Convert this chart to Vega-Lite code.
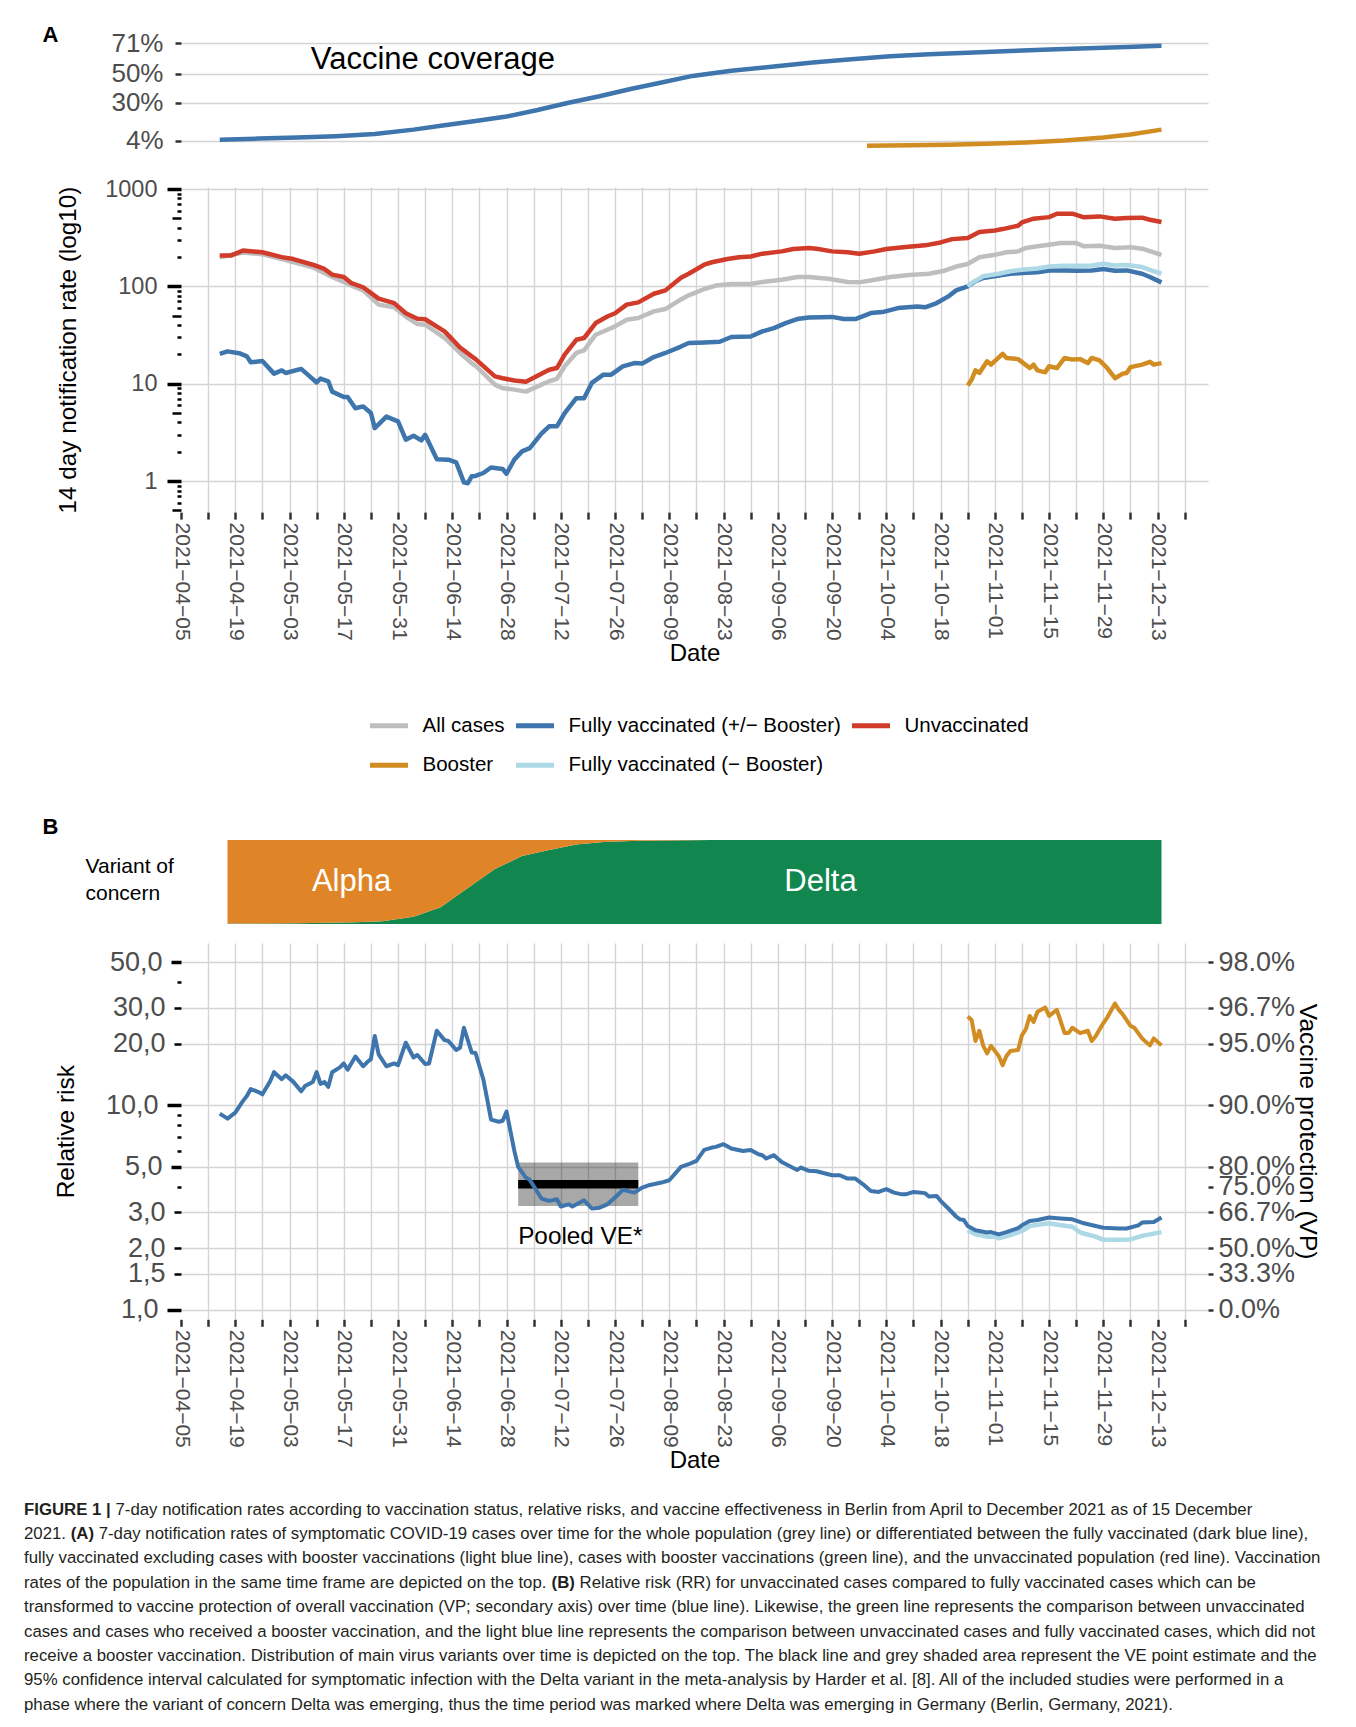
{
  "$schema": "https://vega.github.io/schema/vega-lite/v6.json",
  "background": "white",
  "padding": {"left": 24, "top": 23, "right": 5, "bottom": 5},
  "spacing": 19,
  "config": {
    "font": "Liberation Sans",
    "view": {"stroke": null},
    "axis": {"domain": false, "gridColor": "#d4d4d4", "gridWidth": 1.4, "titleFontWeight": "normal", "titleColor": "#000000", "labelColor": "#4d4d4d"}
  },
  "resolve": {"scale": {"x": "independent", "y": "independent", "color": "independent"}},
  "datasets": {
    "coverage": [
      {"date": "2021-04-15", "group": "Fully vaccinated", "pct": 4.6},
      {"date": "2021-04-25", "group": "Fully vaccinated", "pct": 5.3},
      {"date": "2021-05-05", "group": "Fully vaccinated", "pct": 6.0},
      {"date": "2021-05-15", "group": "Fully vaccinated", "pct": 7.0},
      {"date": "2021-05-25", "group": "Fully vaccinated", "pct": 8.5},
      {"date": "2021-06-04", "group": "Fully vaccinated", "pct": 11.5},
      {"date": "2021-06-12", "group": "Fully vaccinated", "pct": 14.5},
      {"date": "2021-06-20", "group": "Fully vaccinated", "pct": 17.5},
      {"date": "2021-06-28", "group": "Fully vaccinated", "pct": 20.5},
      {"date": "2021-07-06", "group": "Fully vaccinated", "pct": 25},
      {"date": "2021-07-14", "group": "Fully vaccinated", "pct": 30},
      {"date": "2021-07-22", "group": "Fully vaccinated", "pct": 34.5},
      {"date": "2021-07-30", "group": "Fully vaccinated", "pct": 39.5},
      {"date": "2021-08-07", "group": "Fully vaccinated", "pct": 44},
      {"date": "2021-08-15", "group": "Fully vaccinated", "pct": 48.5},
      {"date": "2021-08-25", "group": "Fully vaccinated", "pct": 52},
      {"date": "2021-09-05", "group": "Fully vaccinated", "pct": 55},
      {"date": "2021-09-15", "group": "Fully vaccinated", "pct": 57.8},
      {"date": "2021-09-25", "group": "Fully vaccinated", "pct": 60},
      {"date": "2021-10-05", "group": "Fully vaccinated", "pct": 62},
      {"date": "2021-10-15", "group": "Fully vaccinated", "pct": 63.5},
      {"date": "2021-10-25", "group": "Fully vaccinated", "pct": 64.5},
      {"date": "2021-11-05", "group": "Fully vaccinated", "pct": 65.7},
      {"date": "2021-11-15", "group": "Fully vaccinated", "pct": 66.7},
      {"date": "2021-11-25", "group": "Fully vaccinated", "pct": 67.5},
      {"date": "2021-12-05", "group": "Fully vaccinated", "pct": 68.4},
      {"date": "2021-12-14", "group": "Fully vaccinated", "pct": 69.2},
      {"date": "2021-09-29", "group": "Booster", "pct": 0.4},
      {"date": "2021-10-10", "group": "Booster", "pct": 0.7},
      {"date": "2021-10-20", "group": "Booster", "pct": 1.1},
      {"date": "2021-10-30", "group": "Booster", "pct": 1.7},
      {"date": "2021-11-09", "group": "Booster", "pct": 2.6},
      {"date": "2021-11-19", "group": "Booster", "pct": 4.0},
      {"date": "2021-11-29", "group": "Booster", "pct": 6.0},
      {"date": "2021-12-06", "group": "Booster", "pct": 8.2},
      {"date": "2021-12-14", "group": "Booster", "pct": 11.5}
    ],
    "rates": [
      {"date": "2021-04-15", "series": "All cases", "value": 199},
      {"date": "2021-04-21", "series": "All cases", "value": 223},
      {"date": "2021-04-26", "series": "All cases", "value": 214},
      {"date": "2021-05-01", "series": "All cases", "value": 191},
      {"date": "2021-05-09", "series": "All cases", "value": 157},
      {"date": "2021-05-14", "series": "All cases", "value": 125},
      {"date": "2021-05-19", "series": "All cases", "value": 102},
      {"date": "2021-05-22", "series": "All cases", "value": 91},
      {"date": "2021-05-26", "series": "All cases", "value": 65},
      {"date": "2021-05-30", "series": "All cases", "value": 61},
      {"date": "2021-06-02", "series": "All cases", "value": 49},
      {"date": "2021-06-05", "series": "All cases", "value": 41},
      {"date": "2021-06-07", "series": "All cases", "value": 40.4},
      {"date": "2021-06-12", "series": "All cases", "value": 29.5},
      {"date": "2021-06-13", "series": "All cases", "value": 27.2},
      {"date": "2021-06-16", "series": "All cases", "value": 20.7},
      {"date": "2021-06-19", "series": "All cases", "value": 16.3},
      {"date": "2021-06-20", "series": "All cases", "value": 15.3},
      {"date": "2021-06-25", "series": "All cases", "value": 9.8},
      {"date": "2021-06-27", "series": "All cases", "value": 9.0},
      {"date": "2021-06-30", "series": "All cases", "value": 8.7},
      {"date": "2021-07-03", "series": "All cases", "value": 8.3},
      {"date": "2021-07-06", "series": "All cases", "value": 9.4},
      {"date": "2021-07-09", "series": "All cases", "value": 10.6},
      {"date": "2021-07-11", "series": "All cases", "value": 11.2},
      {"date": "2021-07-13", "series": "All cases", "value": 15.1},
      {"date": "2021-07-16", "series": "All cases", "value": 20.7},
      {"date": "2021-07-18", "series": "All cases", "value": 22},
      {"date": "2021-07-21", "series": "All cases", "value": 31.9},
      {"date": "2021-07-24", "series": "All cases", "value": 35.9},
      {"date": "2021-07-26", "series": "All cases", "value": 38.8},
      {"date": "2021-07-29", "series": "All cases", "value": 45.5},
      {"date": "2021-08-01", "series": "All cases", "value": 47.3},
      {"date": "2021-08-05", "series": "All cases", "value": 55.4},
      {"date": "2021-08-08", "series": "All cases", "value": 58.5},
      {"date": "2021-08-12", "series": "All cases", "value": 73.5},
      {"date": "2021-08-14", "series": "All cases", "value": 81},
      {"date": "2021-08-18", "series": "All cases", "value": 94},
      {"date": "2021-08-21", "series": "All cases", "value": 102},
      {"date": "2021-08-25", "series": "All cases", "value": 106},
      {"date": "2021-08-30", "series": "All cases", "value": 106},
      {"date": "2021-09-02", "series": "All cases", "value": 111},
      {"date": "2021-09-07", "series": "All cases", "value": 117},
      {"date": "2021-09-11", "series": "All cases", "value": 125},
      {"date": "2021-09-14", "series": "All cases", "value": 125},
      {"date": "2021-09-19", "series": "All cases", "value": 120},
      {"date": "2021-09-24", "series": "All cases", "value": 111},
      {"date": "2021-09-27", "series": "All cases", "value": 110},
      {"date": "2021-10-01", "series": "All cases", "value": 117},
      {"date": "2021-10-05", "series": "All cases", "value": 125},
      {"date": "2021-10-10", "series": "All cases", "value": 131},
      {"date": "2021-10-15", "series": "All cases", "value": 135},
      {"date": "2021-10-19", "series": "All cases", "value": 145},
      {"date": "2021-10-22", "series": "All cases", "value": 160},
      {"date": "2021-10-25", "series": "All cases", "value": 170},
      {"date": "2021-10-28", "series": "All cases", "value": 199},
      {"date": "2021-11-01", "series": "All cases", "value": 211},
      {"date": "2021-11-04", "series": "All cases", "value": 224},
      {"date": "2021-11-07", "series": "All cases", "value": 229},
      {"date": "2021-11-09", "series": "All cases", "value": 248},
      {"date": "2021-11-12", "series": "All cases", "value": 258},
      {"date": "2021-11-15", "series": "All cases", "value": 268},
      {"date": "2021-11-18", "series": "All cases", "value": 279},
      {"date": "2021-11-22", "series": "All cases", "value": 279},
      {"date": "2021-11-24", "series": "All cases", "value": 258},
      {"date": "2021-11-28", "series": "All cases", "value": 262},
      {"date": "2021-12-02", "series": "All cases", "value": 248},
      {"date": "2021-12-06", "series": "All cases", "value": 252},
      {"date": "2021-12-09", "series": "All cases", "value": 244},
      {"date": "2021-12-14", "series": "All cases", "value": 211},

      {"date": "2021-04-15", "series": "Fully vaccinated (+/− Booster)", "value": 20.3},
      {"date": "2021-04-17", "series": "Fully vaccinated (+/− Booster)", "value": 21.5},
      {"date": "2021-04-20", "series": "Fully vaccinated (+/− Booster)", "value": 20.6},
      {"date": "2021-04-22", "series": "Fully vaccinated (+/− Booster)", "value": 19.1},
      {"date": "2021-04-23", "series": "Fully vaccinated (+/− Booster)", "value": 16.6},
      {"date": "2021-04-26", "series": "Fully vaccinated (+/− Booster)", "value": 17.1},
      {"date": "2021-04-29", "series": "Fully vaccinated (+/− Booster)", "value": 12.7},
      {"date": "2021-05-01", "series": "Fully vaccinated (+/− Booster)", "value": 13.7},
      {"date": "2021-05-02", "series": "Fully vaccinated (+/− Booster)", "value": 12.9},
      {"date": "2021-05-06", "series": "Fully vaccinated (+/− Booster)", "value": 14.2},
      {"date": "2021-05-08", "series": "Fully vaccinated (+/− Booster)", "value": 12.1},
      {"date": "2021-05-10", "series": "Fully vaccinated (+/− Booster)", "value": 10.3},
      {"date": "2021-05-11", "series": "Fully vaccinated (+/− Booster)", "value": 11.3},
      {"date": "2021-05-13", "series": "Fully vaccinated (+/− Booster)", "value": 10.6},
      {"date": "2021-05-14", "series": "Fully vaccinated (+/− Booster)", "value": 8.3},
      {"date": "2021-05-17", "series": "Fully vaccinated (+/− Booster)", "value": 7.3},
      {"date": "2021-05-18", "series": "Fully vaccinated (+/− Booster)", "value": 7.3},
      {"date": "2021-05-20", "series": "Fully vaccinated (+/− Booster)", "value": 5.6},
      {"date": "2021-05-22", "series": "Fully vaccinated (+/− Booster)", "value": 5.85},
      {"date": "2021-05-24", "series": "Fully vaccinated (+/− Booster)", "value": 5.0},
      {"date": "2021-05-25", "series": "Fully vaccinated (+/− Booster)", "value": 3.5},
      {"date": "2021-05-28", "series": "Fully vaccinated (+/− Booster)", "value": 4.6},
      {"date": "2021-05-31", "series": "Fully vaccinated (+/− Booster)", "value": 4.1},
      {"date": "2021-06-02", "series": "Fully vaccinated (+/− Booster)", "value": 2.66},
      {"date": "2021-06-04", "series": "Fully vaccinated (+/− Booster)", "value": 2.92},
      {"date": "2021-06-06", "series": "Fully vaccinated (+/− Booster)", "value": 2.62},
      {"date": "2021-06-07", "series": "Fully vaccinated (+/− Booster)", "value": 2.99},
      {"date": "2021-06-10", "series": "Fully vaccinated (+/− Booster)", "value": 1.68},
      {"date": "2021-06-13", "series": "Fully vaccinated (+/− Booster)", "value": 1.66},
      {"date": "2021-06-15", "series": "Fully vaccinated (+/− Booster)", "value": 1.56},
      {"date": "2021-06-17", "series": "Fully vaccinated (+/− Booster)", "value": 0.97},
      {"date": "2021-06-18", "series": "Fully vaccinated (+/− Booster)", "value": 0.95},
      {"date": "2021-06-19", "series": "Fully vaccinated (+/− Booster)", "value": 1.12},
      {"date": "2021-06-20", "series": "Fully vaccinated (+/− Booster)", "value": 1.13},
      {"date": "2021-06-22", "series": "Fully vaccinated (+/− Booster)", "value": 1.21},
      {"date": "2021-06-24", "series": "Fully vaccinated (+/− Booster)", "value": 1.38},
      {"date": "2021-06-27", "series": "Fully vaccinated (+/− Booster)", "value": 1.33},
      {"date": "2021-06-28", "series": "Fully vaccinated (+/− Booster)", "value": 1.19},
      {"date": "2021-06-30", "series": "Fully vaccinated (+/− Booster)", "value": 1.66},
      {"date": "2021-07-02", "series": "Fully vaccinated (+/− Booster)", "value": 2.02},
      {"date": "2021-07-04", "series": "Fully vaccinated (+/− Booster)", "value": 2.18},
      {"date": "2021-07-07", "series": "Fully vaccinated (+/− Booster)", "value": 3.07},
      {"date": "2021-07-09", "series": "Fully vaccinated (+/− Booster)", "value": 3.65},
      {"date": "2021-07-11", "series": "Fully vaccinated (+/− Booster)", "value": 3.65},
      {"date": "2021-07-13", "series": "Fully vaccinated (+/− Booster)", "value": 5.0},
      {"date": "2021-07-16", "series": "Fully vaccinated (+/− Booster)", "value": 7.1},
      {"date": "2021-07-18", "series": "Fully vaccinated (+/− Booster)", "value": 7.1},
      {"date": "2021-07-20", "series": "Fully vaccinated (+/− Booster)", "value": 10.2},
      {"date": "2021-07-23", "series": "Fully vaccinated (+/− Booster)", "value": 12.4},
      {"date": "2021-07-25", "series": "Fully vaccinated (+/− Booster)", "value": 12.4},
      {"date": "2021-07-28", "series": "Fully vaccinated (+/− Booster)", "value": 15.1},
      {"date": "2021-07-31", "series": "Fully vaccinated (+/− Booster)", "value": 16.3},
      {"date": "2021-08-02", "series": "Fully vaccinated (+/− Booster)", "value": 16.1},
      {"date": "2021-08-05", "series": "Fully vaccinated (+/− Booster)", "value": 18.8},
      {"date": "2021-08-08", "series": "Fully vaccinated (+/− Booster)", "value": 20.7},
      {"date": "2021-08-12", "series": "Fully vaccinated (+/− Booster)", "value": 24.1},
      {"date": "2021-08-14", "series": "Fully vaccinated (+/− Booster)", "value": 26.2},
      {"date": "2021-08-18", "series": "Fully vaccinated (+/− Booster)", "value": 26.6},
      {"date": "2021-08-22", "series": "Fully vaccinated (+/− Booster)", "value": 27},
      {"date": "2021-08-25", "series": "Fully vaccinated (+/− Booster)", "value": 30.2},
      {"date": "2021-08-30", "series": "Fully vaccinated (+/− Booster)", "value": 30.6},
      {"date": "2021-09-02", "series": "Fully vaccinated (+/− Booster)", "value": 34.5},
      {"date": "2021-09-05", "series": "Fully vaccinated (+/− Booster)", "value": 37.3},
      {"date": "2021-09-08", "series": "Fully vaccinated (+/− Booster)", "value": 42},
      {"date": "2021-09-11", "series": "Fully vaccinated (+/− Booster)", "value": 46.2},
      {"date": "2021-09-14", "series": "Fully vaccinated (+/− Booster)", "value": 48},
      {"date": "2021-09-20", "series": "Fully vaccinated (+/− Booster)", "value": 48.6},
      {"date": "2021-09-23", "series": "Fully vaccinated (+/− Booster)", "value": 46.2},
      {"date": "2021-09-26", "series": "Fully vaccinated (+/− Booster)", "value": 46.2},
      {"date": "2021-09-30", "series": "Fully vaccinated (+/− Booster)", "value": 53.2},
      {"date": "2021-10-03", "series": "Fully vaccinated (+/− Booster)", "value": 54.5},
      {"date": "2021-10-07", "series": "Fully vaccinated (+/− Booster)", "value": 59.9},
      {"date": "2021-10-12", "series": "Fully vaccinated (+/− Booster)", "value": 62.3},
      {"date": "2021-10-14", "series": "Fully vaccinated (+/− Booster)", "value": 61},
      {"date": "2021-10-17", "series": "Fully vaccinated (+/− Booster)", "value": 67.4},
      {"date": "2021-10-20", "series": "Fully vaccinated (+/− Booster)", "value": 78.9},
      {"date": "2021-10-22", "series": "Fully vaccinated (+/− Booster)", "value": 91},
      {"date": "2021-10-25", "series": "Fully vaccinated (+/− Booster)", "value": 100},
      {"date": "2021-10-27", "series": "Fully vaccinated (+/− Booster)", "value": 113},
      {"date": "2021-10-29", "series": "Fully vaccinated (+/− Booster)", "value": 122},
      {"date": "2021-11-02", "series": "Fully vaccinated (+/− Booster)", "value": 129},
      {"date": "2021-11-05", "series": "Fully vaccinated (+/− Booster)", "value": 135},
      {"date": "2021-11-08", "series": "Fully vaccinated (+/− Booster)", "value": 137},
      {"date": "2021-11-12", "series": "Fully vaccinated (+/− Booster)", "value": 140},
      {"date": "2021-11-15", "series": "Fully vaccinated (+/− Booster)", "value": 146},
      {"date": "2021-11-19", "series": "Fully vaccinated (+/− Booster)", "value": 146},
      {"date": "2021-11-22", "series": "Fully vaccinated (+/− Booster)", "value": 145},
      {"date": "2021-11-26", "series": "Fully vaccinated (+/− Booster)", "value": 146},
      {"date": "2021-11-29", "series": "Fully vaccinated (+/− Booster)", "value": 151},
      {"date": "2021-12-02", "series": "Fully vaccinated (+/− Booster)", "value": 145},
      {"date": "2021-12-05", "series": "Fully vaccinated (+/− Booster)", "value": 146},
      {"date": "2021-12-09", "series": "Fully vaccinated (+/− Booster)", "value": 135},
      {"date": "2021-12-11", "series": "Fully vaccinated (+/− Booster)", "value": 125},
      {"date": "2021-12-14", "series": "Fully vaccinated (+/− Booster)", "value": 110},

      {"date": "2021-10-25", "series": "Fully vaccinated (− Booster)", "value": 100},
      {"date": "2021-10-26", "series": "Fully vaccinated (− Booster)", "value": 108},
      {"date": "2021-10-29", "series": "Fully vaccinated (− Booster)", "value": 127},
      {"date": "2021-11-02", "series": "Fully vaccinated (− Booster)", "value": 135},
      {"date": "2021-11-05", "series": "Fully vaccinated (− Booster)", "value": 143},
      {"date": "2021-11-08", "series": "Fully vaccinated (− Booster)", "value": 148},
      {"date": "2021-11-12", "series": "Fully vaccinated (− Booster)", "value": 153},
      {"date": "2021-11-15", "series": "Fully vaccinated (− Booster)", "value": 160},
      {"date": "2021-11-19", "series": "Fully vaccinated (− Booster)", "value": 163},
      {"date": "2021-11-22", "series": "Fully vaccinated (− Booster)", "value": 163},
      {"date": "2021-11-26", "series": "Fully vaccinated (− Booster)", "value": 164},
      {"date": "2021-11-29", "series": "Fully vaccinated (− Booster)", "value": 171},
      {"date": "2021-12-02", "series": "Fully vaccinated (− Booster)", "value": 164},
      {"date": "2021-12-05", "series": "Fully vaccinated (− Booster)", "value": 166},
      {"date": "2021-12-09", "series": "Fully vaccinated (− Booster)", "value": 158},
      {"date": "2021-12-11", "series": "Fully vaccinated (− Booster)", "value": 148},
      {"date": "2021-12-14", "series": "Fully vaccinated (− Booster)", "value": 135},

      {"date": "2021-04-15", "series": "Unvaccinated", "value": 208},
      {"date": "2021-04-18", "series": "Unvaccinated", "value": 208},
      {"date": "2021-04-21", "series": "Unvaccinated", "value": 234},
      {"date": "2021-04-26", "series": "Unvaccinated", "value": 224},
      {"date": "2021-05-01", "series": "Unvaccinated", "value": 200},
      {"date": "2021-05-04", "series": "Unvaccinated", "value": 191},
      {"date": "2021-05-09", "series": "Unvaccinated", "value": 167},
      {"date": "2021-05-12", "series": "Unvaccinated", "value": 151},
      {"date": "2021-05-14", "series": "Unvaccinated", "value": 132},
      {"date": "2021-05-17", "series": "Unvaccinated", "value": 125},
      {"date": "2021-05-19", "series": "Unvaccinated", "value": 108},
      {"date": "2021-05-22", "series": "Unvaccinated", "value": 98},
      {"date": "2021-05-26", "series": "Unvaccinated", "value": 75},
      {"date": "2021-05-30", "series": "Unvaccinated", "value": 67.3},
      {"date": "2021-06-02", "series": "Unvaccinated", "value": 53},
      {"date": "2021-06-05", "series": "Unvaccinated", "value": 46.5},
      {"date": "2021-06-07", "series": "Unvaccinated", "value": 46},
      {"date": "2021-06-12", "series": "Unvaccinated", "value": 34.5},
      {"date": "2021-06-13", "series": "Unvaccinated", "value": 31.4},
      {"date": "2021-06-16", "series": "Unvaccinated", "value": 23.6},
      {"date": "2021-06-19", "series": "Unvaccinated", "value": 19.1},
      {"date": "2021-06-20", "series": "Unvaccinated", "value": 17.9},
      {"date": "2021-06-25", "series": "Unvaccinated", "value": 11.9},
      {"date": "2021-06-27", "series": "Unvaccinated", "value": 11.4},
      {"date": "2021-06-30", "series": "Unvaccinated", "value": 10.8},
      {"date": "2021-07-03", "series": "Unvaccinated", "value": 10.5},
      {"date": "2021-07-06", "series": "Unvaccinated", "value": 12.1},
      {"date": "2021-07-09", "series": "Unvaccinated", "value": 13.9},
      {"date": "2021-07-11", "series": "Unvaccinated", "value": 14.5},
      {"date": "2021-07-13", "series": "Unvaccinated", "value": 19.9},
      {"date": "2021-07-16", "series": "Unvaccinated", "value": 28.3},
      {"date": "2021-07-18", "series": "Unvaccinated", "value": 29.5},
      {"date": "2021-07-21", "series": "Unvaccinated", "value": 42},
      {"date": "2021-07-24", "series": "Unvaccinated", "value": 49},
      {"date": "2021-07-26", "series": "Unvaccinated", "value": 53},
      {"date": "2021-07-29", "series": "Unvaccinated", "value": 65},
      {"date": "2021-08-01", "series": "Unvaccinated", "value": 68.5},
      {"date": "2021-08-05", "series": "Unvaccinated", "value": 84},
      {"date": "2021-08-08", "series": "Unvaccinated", "value": 91},
      {"date": "2021-08-12", "series": "Unvaccinated", "value": 123},
      {"date": "2021-08-14", "series": "Unvaccinated", "value": 135},
      {"date": "2021-08-18", "series": "Unvaccinated", "value": 167},
      {"date": "2021-08-20", "series": "Unvaccinated", "value": 177},
      {"date": "2021-08-24", "series": "Unvaccinated", "value": 191},
      {"date": "2021-08-27", "series": "Unvaccinated", "value": 199},
      {"date": "2021-08-30", "series": "Unvaccinated", "value": 203},
      {"date": "2021-09-02", "series": "Unvaccinated", "value": 217},
      {"date": "2021-09-07", "series": "Unvaccinated", "value": 229},
      {"date": "2021-09-10", "series": "Unvaccinated", "value": 242},
      {"date": "2021-09-14", "series": "Unvaccinated", "value": 248},
      {"date": "2021-09-16", "series": "Unvaccinated", "value": 244},
      {"date": "2021-09-20", "series": "Unvaccinated", "value": 229},
      {"date": "2021-09-24", "series": "Unvaccinated", "value": 224},
      {"date": "2021-09-27", "series": "Unvaccinated", "value": 217},
      {"date": "2021-10-01", "series": "Unvaccinated", "value": 229},
      {"date": "2021-10-04", "series": "Unvaccinated", "value": 242},
      {"date": "2021-10-09", "series": "Unvaccinated", "value": 254},
      {"date": "2021-10-14", "series": "Unvaccinated", "value": 264},
      {"date": "2021-10-18", "series": "Unvaccinated", "value": 283},
      {"date": "2021-10-21", "series": "Unvaccinated", "value": 306},
      {"date": "2021-10-25", "series": "Unvaccinated", "value": 314},
      {"date": "2021-10-28", "series": "Unvaccinated", "value": 362},
      {"date": "2021-11-01", "series": "Unvaccinated", "value": 376},
      {"date": "2021-11-03", "series": "Unvaccinated", "value": 388},
      {"date": "2021-11-07", "series": "Unvaccinated", "value": 420},
      {"date": "2021-11-08", "series": "Unvaccinated", "value": 455},
      {"date": "2021-11-11", "series": "Unvaccinated", "value": 496},
      {"date": "2021-11-15", "series": "Unvaccinated", "value": 515},
      {"date": "2021-11-17", "series": "Unvaccinated", "value": 558},
      {"date": "2021-11-21", "series": "Unvaccinated", "value": 558},
      {"date": "2021-11-24", "series": "Unvaccinated", "value": 512},
      {"date": "2021-11-28", "series": "Unvaccinated", "value": 524},
      {"date": "2021-12-02", "series": "Unvaccinated", "value": 496},
      {"date": "2021-12-05", "series": "Unvaccinated", "value": 504},
      {"date": "2021-12-09", "series": "Unvaccinated", "value": 508},
      {"date": "2021-12-11", "series": "Unvaccinated", "value": 484},
      {"date": "2021-12-14", "series": "Unvaccinated", "value": 458},

      {"date": "2021-10-25", "series": "Booster", "value": 9.6},
      {"date": "2021-10-26", "series": "Booster", "value": 11},
      {"date": "2021-10-27", "series": "Booster", "value": 13.7},
      {"date": "2021-10-28", "series": "Booster", "value": 12.9},
      {"date": "2021-10-30", "series": "Booster", "value": 17},
      {"date": "2021-10-31", "series": "Booster", "value": 15.7},
      {"date": "2021-11-03", "series": "Booster", "value": 20.3},
      {"date": "2021-11-04", "series": "Booster", "value": 18.4},
      {"date": "2021-11-07", "series": "Booster", "value": 17.9},
      {"date": "2021-11-10", "series": "Booster", "value": 14.5},
      {"date": "2021-11-11", "series": "Booster", "value": 15.7},
      {"date": "2021-11-12", "series": "Booster", "value": 13.7},
      {"date": "2021-11-14", "series": "Booster", "value": 13.1},
      {"date": "2021-11-15", "series": "Booster", "value": 15.1},
      {"date": "2021-11-17", "series": "Booster", "value": 14.5},
      {"date": "2021-11-19", "series": "Booster", "value": 18.4},
      {"date": "2021-11-21", "series": "Booster", "value": 17.7},
      {"date": "2021-11-23", "series": "Booster", "value": 17.9},
      {"date": "2021-11-25", "series": "Booster", "value": 16.3},
      {"date": "2021-11-26", "series": "Booster", "value": 18.4},
      {"date": "2021-11-28", "series": "Booster", "value": 17.4},
      {"date": "2021-11-30", "series": "Booster", "value": 14.5},
      {"date": "2021-12-02", "series": "Booster", "value": 11.4},
      {"date": "2021-12-04", "series": "Booster", "value": 12.7},
      {"date": "2021-12-05", "series": "Booster", "value": 12.9},
      {"date": "2021-12-06", "series": "Booster", "value": 14.8},
      {"date": "2021-12-09", "series": "Booster", "value": 15.7},
      {"date": "2021-12-11", "series": "Booster", "value": 16.8},
      {"date": "2021-12-12", "series": "Booster", "value": 15.7},
      {"date": "2021-12-14", "series": "Booster", "value": 16.3}
    ],
    "variants": [
      {"date": "2021-04-17", "variant": "Delta", "share": 0.5}, {"date": "2021-04-17", "variant": "Alpha", "share": 99.5},
      {"date": "2021-05-05", "variant": "Delta", "share": 1}, {"date": "2021-05-05", "variant": "Alpha", "share": 99},
      {"date": "2021-05-20", "variant": "Delta", "share": 2}, {"date": "2021-05-20", "variant": "Alpha", "share": 98},
      {"date": "2021-05-27", "variant": "Delta", "share": 3.4}, {"date": "2021-05-27", "variant": "Alpha", "share": 96.6},
      {"date": "2021-06-04", "variant": "Delta", "share": 8.7}, {"date": "2021-06-04", "variant": "Alpha", "share": 91.3},
      {"date": "2021-06-11", "variant": "Delta", "share": 20}, {"date": "2021-06-11", "variant": "Alpha", "share": 80},
      {"date": "2021-06-18", "variant": "Delta", "share": 43}, {"date": "2021-06-18", "variant": "Alpha", "share": 57},
      {"date": "2021-06-25", "variant": "Delta", "share": 65.6}, {"date": "2021-06-25", "variant": "Alpha", "share": 34.4},
      {"date": "2021-07-02", "variant": "Delta", "share": 81}, {"date": "2021-07-02", "variant": "Alpha", "share": 19},
      {"date": "2021-07-09", "variant": "Delta", "share": 88}, {"date": "2021-07-09", "variant": "Alpha", "share": 12},
      {"date": "2021-07-16", "variant": "Delta", "share": 94.6}, {"date": "2021-07-16", "variant": "Alpha", "share": 5.4},
      {"date": "2021-07-23", "variant": "Delta", "share": 97.5}, {"date": "2021-07-23", "variant": "Alpha", "share": 2.5},
      {"date": "2021-08-01", "variant": "Delta", "share": 99.2}, {"date": "2021-08-01", "variant": "Alpha", "share": 0.8},
      {"date": "2021-08-20", "variant": "Delta", "share": 99.9}, {"date": "2021-08-20", "variant": "Alpha", "share": 0.1},
      {"date": "2021-12-14", "variant": "Delta", "share": 100}, {"date": "2021-12-14", "variant": "Alpha", "share": 0}
    ],
    "pooled": [
      {"date": "2021-07-01", "end": "2021-08-01", "rr": 4.11, "lo": 3.22, "hi": 5.25, "label": "Pooled VE*"}
    ],
    "rr": [
      {"date": "2021-04-15", "series": "Fully vaccinated (+/− Booster)", "rr": 9.1},
      {"date": "2021-04-17", "series": "Fully vaccinated (+/− Booster)", "rr": 8.6},
      {"date": "2021-04-19", "series": "Fully vaccinated (+/− Booster)", "rr": 9.2},
      {"date": "2021-04-21", "series": "Fully vaccinated (+/− Booster)", "rr": 10.5},
      {"date": "2021-04-22", "series": "Fully vaccinated (+/− Booster)", "rr": 11.1},
      {"date": "2021-04-23", "series": "Fully vaccinated (+/− Booster)", "rr": 12.0},
      {"date": "2021-04-25", "series": "Fully vaccinated (+/− Booster)", "rr": 11.6},
      {"date": "2021-04-26", "series": "Fully vaccinated (+/− Booster)", "rr": 11.3},
      {"date": "2021-04-28", "series": "Fully vaccinated (+/− Booster)", "rr": 13.1},
      {"date": "2021-04-29", "series": "Fully vaccinated (+/− Booster)", "rr": 14.5},
      {"date": "2021-05-01", "series": "Fully vaccinated (+/− Booster)", "rr": 13.4},
      {"date": "2021-05-02", "series": "Fully vaccinated (+/− Booster)", "rr": 14.0},
      {"date": "2021-05-04", "series": "Fully vaccinated (+/− Booster)", "rr": 13.0},
      {"date": "2021-05-06", "series": "Fully vaccinated (+/− Booster)", "rr": 11.7},
      {"date": "2021-05-07", "series": "Fully vaccinated (+/− Booster)", "rr": 12.4},
      {"date": "2021-05-09", "series": "Fully vaccinated (+/− Booster)", "rr": 13.0},
      {"date": "2021-05-10", "series": "Fully vaccinated (+/− Booster)", "rr": 14.5},
      {"date": "2021-05-11", "series": "Fully vaccinated (+/− Booster)", "rr": 12.7},
      {"date": "2021-05-12", "series": "Fully vaccinated (+/− Booster)", "rr": 13.0},
      {"date": "2021-05-13", "series": "Fully vaccinated (+/− Booster)", "rr": 12.3},
      {"date": "2021-05-14", "series": "Fully vaccinated (+/− Booster)", "rr": 14.5},
      {"date": "2021-05-16", "series": "Fully vaccinated (+/− Booster)", "rr": 15.3},
      {"date": "2021-05-17", "series": "Fully vaccinated (+/− Booster)", "rr": 16.0},
      {"date": "2021-05-18", "series": "Fully vaccinated (+/− Booster)", "rr": 14.9},
      {"date": "2021-05-20", "series": "Fully vaccinated (+/− Booster)", "rr": 17.3},
      {"date": "2021-05-22", "series": "Fully vaccinated (+/− Booster)", "rr": 15.5},
      {"date": "2021-05-23", "series": "Fully vaccinated (+/− Booster)", "rr": 16.2},
      {"date": "2021-05-24", "series": "Fully vaccinated (+/− Booster)", "rr": 16.8},
      {"date": "2021-05-25", "series": "Fully vaccinated (+/− Booster)", "rr": 21.8},
      {"date": "2021-05-26", "series": "Fully vaccinated (+/− Booster)", "rr": 17.7},
      {"date": "2021-05-28", "series": "Fully vaccinated (+/− Booster)", "rr": 15.5},
      {"date": "2021-05-30", "series": "Fully vaccinated (+/− Booster)", "rr": 16.0},
      {"date": "2021-05-31", "series": "Fully vaccinated (+/− Booster)", "rr": 15.7},
      {"date": "2021-06-02", "series": "Fully vaccinated (+/− Booster)", "rr": 20.2},
      {"date": "2021-06-04", "series": "Fully vaccinated (+/− Booster)", "rr": 17.1},
      {"date": "2021-06-05", "series": "Fully vaccinated (+/− Booster)", "rr": 17.6},
      {"date": "2021-06-07", "series": "Fully vaccinated (+/− Booster)", "rr": 15.9},
      {"date": "2021-06-08", "series": "Fully vaccinated (+/− Booster)", "rr": 16.0},
      {"date": "2021-06-10", "series": "Fully vaccinated (+/− Booster)", "rr": 23.1},
      {"date": "2021-06-12", "series": "Fully vaccinated (+/− Booster)", "rr": 20.8},
      {"date": "2021-06-13", "series": "Fully vaccinated (+/− Booster)", "rr": 20.6},
      {"date": "2021-06-15", "series": "Fully vaccinated (+/− Booster)", "rr": 18.6},
      {"date": "2021-06-16", "series": "Fully vaccinated (+/− Booster)", "rr": 19.1},
      {"date": "2021-06-17", "series": "Fully vaccinated (+/− Booster)", "rr": 23.9},
      {"date": "2021-06-19", "series": "Fully vaccinated (+/− Booster)", "rr": 18.1},
      {"date": "2021-06-20", "series": "Fully vaccinated (+/− Booster)", "rr": 18.0},
      {"date": "2021-06-22", "series": "Fully vaccinated (+/− Booster)", "rr": 13.4},
      {"date": "2021-06-23", "series": "Fully vaccinated (+/− Booster)", "rr": 10.7},
      {"date": "2021-06-24", "series": "Fully vaccinated (+/− Booster)", "rr": 8.5},
      {"date": "2021-06-26", "series": "Fully vaccinated (+/− Booster)", "rr": 8.3},
      {"date": "2021-06-27", "series": "Fully vaccinated (+/− Booster)", "rr": 8.4},
      {"date": "2021-06-28", "series": "Fully vaccinated (+/− Booster)", "rr": 9.3},
      {"date": "2021-06-30", "series": "Fully vaccinated (+/− Booster)", "rr": 6.0},
      {"date": "2021-07-01", "series": "Fully vaccinated (+/− Booster)", "rr": 5.0},
      {"date": "2021-07-03", "series": "Fully vaccinated (+/− Booster)", "rr": 4.43},
      {"date": "2021-07-04", "series": "Fully vaccinated (+/− Booster)", "rr": 4.32},
      {"date": "2021-07-07", "series": "Fully vaccinated (+/− Booster)", "rr": 3.50},
      {"date": "2021-07-09", "series": "Fully vaccinated (+/− Booster)", "rr": 3.41},
      {"date": "2021-07-11", "series": "Fully vaccinated (+/− Booster)", "rr": 3.47},
      {"date": "2021-07-12", "series": "Fully vaccinated (+/− Booster)", "rr": 3.20},
      {"date": "2021-07-14", "series": "Fully vaccinated (+/− Booster)", "rr": 3.28},
      {"date": "2021-07-15", "series": "Fully vaccinated (+/− Booster)", "rr": 3.20},
      {"date": "2021-07-18", "series": "Fully vaccinated (+/− Booster)", "rr": 3.43},
      {"date": "2021-07-20", "series": "Fully vaccinated (+/− Booster)", "rr": 3.13},
      {"date": "2021-07-22", "series": "Fully vaccinated (+/− Booster)", "rr": 3.16},
      {"date": "2021-07-24", "series": "Fully vaccinated (+/− Booster)", "rr": 3.28},
      {"date": "2021-07-26", "series": "Fully vaccinated (+/− Booster)", "rr": 3.54},
      {"date": "2021-07-28", "series": "Fully vaccinated (+/− Booster)", "rr": 3.86},
      {"date": "2021-07-31", "series": "Fully vaccinated (+/− Booster)", "rr": 3.74},
      {"date": "2021-08-02", "series": "Fully vaccinated (+/− Booster)", "rr": 3.96},
      {"date": "2021-08-04", "series": "Fully vaccinated (+/− Booster)", "rr": 4.08},
      {"date": "2021-08-07", "series": "Fully vaccinated (+/− Booster)", "rr": 4.19},
      {"date": "2021-08-09", "series": "Fully vaccinated (+/− Booster)", "rr": 4.3},
      {"date": "2021-08-12", "series": "Fully vaccinated (+/− Booster)", "rr": 5.0},
      {"date": "2021-08-14", "series": "Fully vaccinated (+/− Booster)", "rr": 5.15},
      {"date": "2021-08-16", "series": "Fully vaccinated (+/− Booster)", "rr": 5.35},
      {"date": "2021-08-18", "series": "Fully vaccinated (+/− Booster)", "rr": 6.05},
      {"date": "2021-08-20", "series": "Fully vaccinated (+/− Booster)", "rr": 6.21},
      {"date": "2021-08-21", "series": "Fully vaccinated (+/− Booster)", "rr": 6.26},
      {"date": "2021-08-23", "series": "Fully vaccinated (+/− Booster)", "rr": 6.45},
      {"date": "2021-08-25", "series": "Fully vaccinated (+/− Booster)", "rr": 6.14},
      {"date": "2021-08-28", "series": "Fully vaccinated (+/− Booster)", "rr": 5.98},
      {"date": "2021-08-30", "series": "Fully vaccinated (+/− Booster)", "rr": 6.05},
      {"date": "2021-09-01", "series": "Fully vaccinated (+/− Booster)", "rr": 5.76},
      {"date": "2021-09-02", "series": "Fully vaccinated (+/− Booster)", "rr": 5.70},
      {"date": "2021-09-03", "series": "Fully vaccinated (+/− Booster)", "rr": 5.49},
      {"date": "2021-09-05", "series": "Fully vaccinated (+/− Booster)", "rr": 5.70},
      {"date": "2021-09-07", "series": "Fully vaccinated (+/− Booster)", "rr": 5.28},
      {"date": "2021-09-09", "series": "Fully vaccinated (+/− Booster)", "rr": 5.05},
      {"date": "2021-09-11", "series": "Fully vaccinated (+/− Booster)", "rr": 4.83},
      {"date": "2021-09-12", "series": "Fully vaccinated (+/− Booster)", "rr": 4.96},
      {"date": "2021-09-14", "series": "Fully vaccinated (+/− Booster)", "rr": 4.78},
      {"date": "2021-09-16", "series": "Fully vaccinated (+/− Booster)", "rr": 4.76},
      {"date": "2021-09-18", "series": "Fully vaccinated (+/− Booster)", "rr": 4.65},
      {"date": "2021-09-20", "series": "Fully vaccinated (+/− Booster)", "rr": 4.55},
      {"date": "2021-09-22", "series": "Fully vaccinated (+/− Booster)", "rr": 4.55},
      {"date": "2021-09-24", "series": "Fully vaccinated (+/− Booster)", "rr": 4.38},
      {"date": "2021-09-26", "series": "Fully vaccinated (+/− Booster)", "rr": 4.38},
      {"date": "2021-09-28", "series": "Fully vaccinated (+/− Booster)", "rr": 4.11},
      {"date": "2021-09-30", "series": "Fully vaccinated (+/− Booster)", "rr": 3.81},
      {"date": "2021-10-02", "series": "Fully vaccinated (+/− Booster)", "rr": 3.77},
      {"date": "2021-10-04", "series": "Fully vaccinated (+/− Booster)", "rr": 3.89},
      {"date": "2021-10-06", "series": "Fully vaccinated (+/− Booster)", "rr": 3.74},
      {"date": "2021-10-08", "series": "Fully vaccinated (+/− Booster)", "rr": 3.67},
      {"date": "2021-10-09", "series": "Fully vaccinated (+/− Booster)", "rr": 3.67},
      {"date": "2021-10-11", "series": "Fully vaccinated (+/− Booster)", "rr": 3.77},
      {"date": "2021-10-14", "series": "Fully vaccinated (+/− Booster)", "rr": 3.72},
      {"date": "2021-10-15", "series": "Fully vaccinated (+/− Booster)", "rr": 3.58},
      {"date": "2021-10-17", "series": "Fully vaccinated (+/− Booster)", "rr": 3.60},
      {"date": "2021-10-18", "series": "Fully vaccinated (+/− Booster)", "rr": 3.41},
      {"date": "2021-10-20", "series": "Fully vaccinated (+/− Booster)", "rr": 3.13},
      {"date": "2021-10-22", "series": "Fully vaccinated (+/− Booster)", "rr": 2.86},
      {"date": "2021-10-23", "series": "Fully vaccinated (+/− Booster)", "rr": 2.77},
      {"date": "2021-10-24", "series": "Fully vaccinated (+/− Booster)", "rr": 2.75},
      {"date": "2021-10-25", "series": "Fully vaccinated (+/− Booster)", "rr": 2.57},
      {"date": "2021-10-27", "series": "Fully vaccinated (+/− Booster)", "rr": 2.45},
      {"date": "2021-10-30", "series": "Fully vaccinated (+/− Booster)", "rr": 2.39},
      {"date": "2021-10-31", "series": "Fully vaccinated (+/− Booster)", "rr": 2.40},
      {"date": "2021-11-02", "series": "Fully vaccinated (+/− Booster)", "rr": 2.34},
      {"date": "2021-11-04", "series": "Fully vaccinated (+/− Booster)", "rr": 2.40},
      {"date": "2021-11-07", "series": "Fully vaccinated (+/− Booster)", "rr": 2.51},
      {"date": "2021-11-08", "series": "Fully vaccinated (+/− Booster)", "rr": 2.59},
      {"date": "2021-11-10", "series": "Fully vaccinated (+/− Booster)", "rr": 2.72},
      {"date": "2021-11-12", "series": "Fully vaccinated (+/− Booster)", "rr": 2.75},
      {"date": "2021-11-15", "series": "Fully vaccinated (+/− Booster)", "rr": 2.83},
      {"date": "2021-11-18", "series": "Fully vaccinated (+/− Booster)", "rr": 2.80},
      {"date": "2021-11-21", "series": "Fully vaccinated (+/− Booster)", "rr": 2.77},
      {"date": "2021-11-24", "series": "Fully vaccinated (+/− Booster)", "rr": 2.65},
      {"date": "2021-11-27", "series": "Fully vaccinated (+/− Booster)", "rr": 2.57},
      {"date": "2021-11-29", "series": "Fully vaccinated (+/− Booster)", "rr": 2.52},
      {"date": "2021-12-03", "series": "Fully vaccinated (+/− Booster)", "rr": 2.50},
      {"date": "2021-12-05", "series": "Fully vaccinated (+/− Booster)", "rr": 2.50},
      {"date": "2021-12-08", "series": "Fully vaccinated (+/− Booster)", "rr": 2.59},
      {"date": "2021-12-09", "series": "Fully vaccinated (+/− Booster)", "rr": 2.67},
      {"date": "2021-12-12", "series": "Fully vaccinated (+/− Booster)", "rr": 2.69},
      {"date": "2021-12-14", "series": "Fully vaccinated (+/− Booster)", "rr": 2.83},

      {"date": "2021-10-25", "series": "Fully vaccinated (− Booster)", "rr": 2.45},
      {"date": "2021-10-27", "series": "Fully vaccinated (− Booster)", "rr": 2.34},
      {"date": "2021-10-30", "series": "Fully vaccinated (− Booster)", "rr": 2.28},
      {"date": "2021-11-01", "series": "Fully vaccinated (− Booster)", "rr": 2.28},
      {"date": "2021-11-02", "series": "Fully vaccinated (− Booster)", "rr": 2.24},
      {"date": "2021-11-05", "series": "Fully vaccinated (− Booster)", "rr": 2.32},
      {"date": "2021-11-08", "series": "Fully vaccinated (− Booster)", "rr": 2.43},
      {"date": "2021-11-10", "series": "Fully vaccinated (− Booster)", "rr": 2.57},
      {"date": "2021-11-13", "series": "Fully vaccinated (− Booster)", "rr": 2.62},
      {"date": "2021-11-15", "series": "Fully vaccinated (− Booster)", "rr": 2.65},
      {"date": "2021-11-18", "series": "Fully vaccinated (− Booster)", "rr": 2.59},
      {"date": "2021-11-21", "series": "Fully vaccinated (− Booster)", "rr": 2.55},
      {"date": "2021-11-23", "series": "Fully vaccinated (− Booster)", "rr": 2.39},
      {"date": "2021-11-27", "series": "Fully vaccinated (− Booster)", "rr": 2.28},
      {"date": "2021-11-29", "series": "Fully vaccinated (− Booster)", "rr": 2.20},
      {"date": "2021-12-03", "series": "Fully vaccinated (− Booster)", "rr": 2.20},
      {"date": "2021-12-06", "series": "Fully vaccinated (− Booster)", "rr": 2.21},
      {"date": "2021-12-09", "series": "Fully vaccinated (− Booster)", "rr": 2.30},
      {"date": "2021-12-11", "series": "Fully vaccinated (− Booster)", "rr": 2.34},
      {"date": "2021-12-14", "series": "Fully vaccinated (− Booster)", "rr": 2.40},

      {"date": "2021-10-25", "series": "Booster", "rr": 27.1},
      {"date": "2021-10-26", "series": "Booster", "rr": 26.1},
      {"date": "2021-10-27", "series": "Booster", "rr": 20.6},
      {"date": "2021-10-28", "series": "Booster", "rr": 23.1},
      {"date": "2021-10-29", "series": "Booster", "rr": 19.5},
      {"date": "2021-10-30", "series": "Booster", "rr": 17.9},
      {"date": "2021-10-31", "series": "Booster", "rr": 19.5},
      {"date": "2021-11-02", "series": "Booster", "rr": 17.4},
      {"date": "2021-11-03", "series": "Booster", "rr": 15.7},
      {"date": "2021-11-04", "series": "Booster", "rr": 17.4},
      {"date": "2021-11-05", "series": "Booster", "rr": 18.4},
      {"date": "2021-11-07", "series": "Booster", "rr": 18.6},
      {"date": "2021-11-08", "series": "Booster", "rr": 22.0},
      {"date": "2021-11-09", "series": "Booster", "rr": 23.5},
      {"date": "2021-11-10", "series": "Booster", "rr": 27.3},
      {"date": "2021-11-11", "series": "Booster", "rr": 25.5},
      {"date": "2021-11-12", "series": "Booster", "rr": 28.6},
      {"date": "2021-11-14", "series": "Booster", "rr": 30.0},
      {"date": "2021-11-15", "series": "Booster", "rr": 27.3},
      {"date": "2021-11-17", "series": "Booster", "rr": 29.2},
      {"date": "2021-11-19", "series": "Booster", "rr": 22.5},
      {"date": "2021-11-20", "series": "Booster", "rr": 22.5},
      {"date": "2021-11-21", "series": "Booster", "rr": 23.9},
      {"date": "2021-11-23", "series": "Booster", "rr": 22.5},
      {"date": "2021-11-25", "series": "Booster", "rr": 23.1},
      {"date": "2021-11-26", "series": "Booster", "rr": 20.6},
      {"date": "2021-11-27", "series": "Booster", "rr": 21.7},
      {"date": "2021-11-29", "series": "Booster", "rr": 25.2},
      {"date": "2021-11-30", "series": "Booster", "rr": 26.8},
      {"date": "2021-12-02", "series": "Booster", "rr": 31.4},
      {"date": "2021-12-03", "series": "Booster", "rr": 29.2},
      {"date": "2021-12-04", "series": "Booster", "rr": 27.8},
      {"date": "2021-12-06", "series": "Booster", "rr": 24.4},
      {"date": "2021-12-07", "series": "Booster", "rr": 23.9},
      {"date": "2021-12-09", "series": "Booster", "rr": 21.2},
      {"date": "2021-12-11", "series": "Booster", "rr": 19.6},
      {"date": "2021-12-12", "series": "Booster", "rr": 21.2},
      {"date": "2021-12-14", "series": "Booster", "rr": 19.6}
    ],
    "caption": [
      {"line": 1, "part": "b0", "text": "FIGURE 1 |"},
      {"line": 1, "part": "n0", "text": "7-day notification rates according to vaccination status, relative risks, and vaccine effectiveness in Berlin from April to December 2021 as of 15 December"},
      {"line": 2, "part": "s", "text": "2021."},
      {"line": 2, "part": "bA", "text": "(A)"},
      {"line": 2, "part": "nA", "text": "7-day notification rates of symptomatic COVID-19 cases over time for the whole population (grey line) or differentiated between the fully vaccinated (dark blue line),"},
      {"line": 3, "part": "s", "text": "fully vaccinated excluding cases with booster vaccinations (light blue line), cases with booster vaccinations (green line), and the unvaccinated population (red line). Vaccination"},
      {"line": 4, "part": "s", "text": "rates of the population in the same time frame are depicted on the top."},
      {"line": 4, "part": "bB", "text": "(B)"},
      {"line": 4, "part": "nB", "text": "Relative risk (RR) for unvaccinated cases compared to fully vaccinated cases which can be"},
      {"line": 5, "part": "s", "text": "transformed to vaccine protection of overall vaccination (VP; secondary axis) over time (blue line). Likewise, the green line represents the comparison between unvaccinated"},
      {"line": 6, "part": "s", "text": "cases and cases who received a booster vaccination, and the light blue line represents the comparison between unvaccinated cases and fully vaccinated cases, which did not"},
      {"line": 7, "part": "s", "text": "receive a booster vaccination. Distribution of main virus variants over time is depicted on the top. The black line and grey shaded area represent the VE point estimate and the"},
      {"line": 8, "part": "s", "text": "95% confidence interval calculated for symptomatic infection with the Delta variant in the meta-analysis by Harder et al. [8]. All of the included studies were performed in a"},
      {"line": 9, "part": "s", "text": "phase where the variant of concern Delta was emerging, thus the time period was marked where Delta was emerging in Germany (Berlin, Germany, 2021)."}
    ]
  },
  "vconcat": [
    {
      "width": 1027,
      "height": 121.2,
      "layer": [
        {
          "data": {"name": "coverage"},
          "mark": {"type": "line", "strokeWidth": 4.5},
          "encoding": {
            "x": {"field": "date", "type": "temporal", "scale": {"type": "utc", "domain": [1617580800000, 1640476800000]}, "axis": null},
            "y": {"field": "pct", "type": "quantitative", "scale": {"domain": [-7.5, 76], "nice": false, "zero": false},
                  "axis": {"values": [4, 30, 50, 71], "labelExpr": "datum.value + '%'", "grid": true, "tickSize": 6, "tickWidth": 2.5, "tickColor": "#333333", "labelFontSize": 26, "labelPadding": 12,
                           "title": "A", "titleAngle": 0, "titleX": -139, "titleY": 5.5, "titleAlign": "left", "titleBaseline": "alphabetic", "titleFontSize": 22, "titleFontWeight": "bold", "titleColor": "#000000"}},
            "color": {"field": "group", "type": "nominal", "scale": {"domain": ["Fully vaccinated", "Booster"], "range": ["#3E75AD", "#D18D22"]}, "legend": null}
          }
        },
        {
          "data": {"values": [{"label": "Vaccine coverage"}]},
          "mark": {"type": "text", "fontSize": 31, "align": "center", "baseline": "middle", "color": "#000000"},
          "encoding": {
            "x": {"datum": {"year": 2021, "month": 6, "date": 9, "utc": true}, "type": "temporal"},
            "y": {"datum": 59.4, "type": "quantitative"},
            "text": {"field": "label"}
          }
        }
      ]
    },
    {
      "width": 1027,
      "height": 325.1,
      "data": {"name": "rates"},
      "encoding": {
        "x": {"field": "date", "type": "temporal", "scale": {"type": "utc", "domain": [1617580800000, 1640476800000]},
              "axis": {"values": [1617580800000,1618185600000,1618790400000,1619395200000,1620000000000,1620604800000,1621209600000,1621814400000,1622419200000,1623024000000,1623628800000,1624233600000,1624838400000,1625443200000,1626048000000,1626652800000,1627257600000,1627862400000,1628467200000,1629072000000,1629676800000,1630281600000,1630886400000,1631491200000,1632096000000,1632700800000,1633305600000,1633910400000,1634515200000,1635120000000,1635724800000,1636329600000,1636934400000,1637539200000,1638144000000,1638748800000,1639353600000,1639958400000],
                       "labelExpr": "round((time(datum.value) - 1617580800000) / 604800000) % 2 == 0 ? utcFormat(datum.value, '%Y−%m−%d') : ''",
                       "labelAngle": 90, "labelFontSize": 21, "labelPadding": 3, "labelOverlap": false,
                       "tickSize": 7, "tickWidth": 2.5, "tickColor": "#333333",
                       "grid": true, "gridOpacity": {"condition": {"test": "time(datum.value) == 1617580800000", "value": 0}, "value": 1},
                       "title": "Date", "titleFontSize": 24, "titlePadding": 1}},
        "y": {"field": "value", "type": "quantitative", "scale": {"type": "log", "domain": [0.48, 1050], "nice": false},
              "axis": {"values": [0.5,0.6,0.7,0.8,0.9,1,2,3,4,5,6,7,8,9,10,20,30,40,50,60,70,80,90,100,200,300,400,500,600,700,800,900,1000],
                       "labelExpr": "indexof([1,10,100,1000], datum.value) >= 0 ? format(datum.value, 'd') : ''",
                       "labelFontSize": 23.5, "labelPadding": 10, "labelOverlap": false,
                       "tickColor": "#000000",
                       "tickSize": {"condition": [{"test": "indexof([1,10,100,1000], datum.value) >= 0", "value": 14}, {"test": "indexof([0.5,5,50,500], datum.value) >= 0", "value": 9}], "value": 4},
                       "tickWidth": {"condition": {"test": "indexof([1,10,100,1000], datum.value) >= 0", "value": 3.5}, "value": 2.5},
                       "grid": true,
                       "gridOpacity": {"condition": {"test": "indexof([1,10,100,1000], datum.value) >= 0", "value": 1}, "value": 0},
                       "title": "14 day notification rate (log10)", "titleFontSize": 24.3, "titlePadding": 24.4}},
        "color": {"field": "series", "type": "nominal",
                  "scale": {"domain": ["All cases", "Fully vaccinated (+/− Booster)", "Unvaccinated", "Booster", "Fully vaccinated (− Booster)"],
                            "range": ["#BEBEBE", "#3E75AD", "#D03B2A", "#D18D22", "#ADD8E6"]},
                  "legend": {"orient": "none", "legendX": 167.3, "legendY": 498.1, "direction": "horizontal", "columns": 3, "title": null,
                             "symbolType": "stroke", "symbolStrokeWidth": 5, "symbolSize": 1444, "labelFontSize": 20.5, "labelColor": "#000000",
                             "labelOffset": 12, "columnPadding": 0, "rowPadding": 7.5, "labelLimit": 500, "padding": 19.2}}
      },
      "layer": [
        {"transform": [{"filter": "datum.series == 'All cases'"}], "mark": {"type": "line", "strokeWidth": 4.5, "strokeJoin": "round"}},
        {"transform": [{"filter": "datum.series == 'Fully vaccinated (+/− Booster)'"}], "mark": {"type": "line", "strokeWidth": 4.5, "strokeJoin": "round"}},
        {"transform": [{"filter": "datum.series == 'Fully vaccinated (− Booster)'"}], "mark": {"type": "line", "strokeWidth": 4.5, "strokeJoin": "round"}},
        {"transform": [{"filter": "datum.series == 'Unvaccinated'"}], "mark": {"type": "line", "strokeWidth": 4.5, "strokeJoin": "round"}},
        {"transform": [{"filter": "datum.series == 'Booster'"}], "mark": {"type": "line", "strokeWidth": 4.5, "strokeJoin": "round"}}
      ]
    },
    {
      "width": 1027,
      "height": 84,
      "layer": [
        {
          "data": {"name": "variants"},
          "mark": {"type": "area"},
          "encoding": {
            "x": {"field": "date", "type": "temporal", "scale": {"type": "utc", "domain": [1617580800000, 1640476800000]},
                  "axis": {"orient": "top", "labels": false, "ticks": false, "grid": false, "domain": false,
                           "title": "B", "titleX": -139, "titleY": -6.7, "titleAlign": "left", "titleBaseline": "alphabetic", "titleAngle": 0,
                           "titleFontSize": 22, "titleFontWeight": "bold", "titleColor": "#000000"}},
            "y": {"field": "share", "type": "quantitative", "stack": "normalize", "scale": {"domain": [0, 1], "nice": false},
                  "axis": {"title": ["Variant of", "concern"], "titleAngle": 0, "titleAlign": "left", "titleBaseline": "middle", "titleX": -96, "titleY": 26.3,
                           "titleFontSize": 21, "titleLineHeight": 27, "titleColor": "#000000", "labels": false, "ticks": false, "grid": false, "domain": false}},
            "color": {"field": "variant", "type": "nominal", "scale": {"domain": ["Alpha", "Delta"], "range": ["#E08527", "#11874F"]}, "legend": null},
            "order": {"field": "variant", "sort": "descending"}
          }
        },
        {
          "data": {"values": [{"label": "Alpha"}]},
          "mark": {"type": "text", "fontSize": 31, "align": "center", "baseline": "middle", "color": "#ffffff"},
          "encoding": {
            "x": {"datum": {"year": 2021, "month": 5, "date": 19, "utc": true}, "type": "temporal"},
            "y": {"datum": 0.5, "type": "quantitative"},
            "text": {"field": "label"}
          }
        },
        {
          "data": {"values": [{"label": "Delta"}]},
          "mark": {"type": "text", "fontSize": 31, "align": "center", "baseline": "middle", "color": "#ffffff"},
          "encoding": {
            "x": {"datum": {"year": 2021, "month": 9, "date": 17, "utc": true}, "type": "temporal"},
            "y": {"datum": 0.5, "type": "quantitative"},
            "text": {"field": "label"}
          }
        }
      ]
    },
    {
      "width": 1027,
      "height": 376.3,
      "resolve": {"axis": {"y": "independent"}},
      "layer": [
        {
          "encoding": {
            "x": {"field": "date", "type": "temporal", "scale": {"type": "utc", "domain": [1617580800000, 1640476800000]},
                  "axis": {"values": [1617580800000,1618185600000,1618790400000,1619395200000,1620000000000,1620604800000,1621209600000,1621814400000,1622419200000,1623024000000,1623628800000,1624233600000,1624838400000,1625443200000,1626048000000,1626652800000,1627257600000,1627862400000,1628467200000,1629072000000,1629676800000,1630281600000,1630886400000,1631491200000,1632096000000,1632700800000,1633305600000,1633910400000,1634515200000,1635120000000,1635724800000,1636329600000,1636934400000,1637539200000,1638144000000,1638748800000,1639353600000,1639958400000],
                           "labelExpr": "round((time(datum.value) - 1617580800000) / 604800000) % 2 == 0 ? utcFormat(datum.value, '%Y−%m−%d') : ''",
                           "labelAngle": 90, "labelFontSize": 21, "labelPadding": 3, "labelOverlap": false,
                           "tickSize": 7, "tickWidth": 2.5, "tickColor": "#333333",
                           "grid": true, "gridOpacity": {"condition": {"test": "time(datum.value) == 1617580800000", "value": 0}, "value": 1},
                           "title": "Date", "titleFontSize": 24, "titlePadding": 1}},
            "y": {"field": "rr", "type": "quantitative", "scale": {"type": "log", "domain": [0.9, 62], "nice": false},
                  "axis": {"values": [1,1.5,2,3,4,5,6,7,8,9,10,20,30,40,50],
                           "labelExpr": "indexof([1,1.5,2,3,5,10,20,30,50], datum.value) >= 0 ? replace(format(datum.value, '.1f'), '.', ',') : ''",
                           "labelFontSize": 27, "labelPadding": 9, "labelOverlap": false,
                           "tickColor": "#000000",
                           "tickSize": {"condition": [{"test": "indexof([1,10], datum.value) >= 0", "value": 14}, {"test": "indexof([5,50], datum.value) >= 0", "value": 10}, {"test": "indexof([1.5,2,3,20,30], datum.value) >= 0", "value": 7}], "value": 4},
                           "tickWidth": {"condition": {"test": "indexof([1,10,5,50], datum.value) >= 0", "value": 3.5}, "value": 2.5},
                           "grid": true,
                           "gridOpacity": {"condition": {"test": "indexof([1,1.5,2,3,5,10,20,30,50], datum.value) >= 0", "value": 1}, "value": 0},
                           "title": "Relative risk", "titleFontSize": 24.5, "titlePadding": 27}}
          },
          "layer": [
            {
              "data": {"name": "pooled"},
              "mark": {"type": "rect", "color": "#000000", "opacity": 0.34},
              "encoding": {
                "x2": {"field": "end"},
                "y": {"field": "lo", "type": "quantitative", "scale": {"type": "log", "domain": [0.9, 62], "nice": false}},
                "y2": {"field": "hi"}
              }
            },
            {
              "data": {"name": "pooled"},
              "mark": {"type": "rule", "color": "#000000", "strokeWidth": 8.7},
              "encoding": {"x2": {"field": "end"}}
            },
            {
              "data": {"name": "pooled"},
              "mark": {"type": "text", "align": "left", "baseline": "middle", "fontSize": 24.3, "color": "#000000"},
              "encoding": {
                "y": {"datum": 2.28, "type": "quantitative", "scale": {"type": "log", "domain": [0.9, 62], "nice": false}},
                "text": {"field": "label"}
              }
            },
            {
              "data": {"name": "rr"},
              "transform": [{"filter": "datum.series == 'Fully vaccinated (− Booster)'"}],
              "mark": {"type": "line", "strokeWidth": 4.5, "color": "#ADD8E6", "strokeJoin": "round"}
            },
            {
              "data": {"name": "rr"},
              "transform": [{"filter": "datum.series == 'Fully vaccinated (+/− Booster)'"}],
              "mark": {"type": "line", "strokeWidth": 4, "color": "#3E75AD", "strokeJoin": "round"}
            },
            {
              "data": {"name": "rr"},
              "transform": [{"filter": "datum.series == 'Booster'"}],
              "mark": {"type": "line", "strokeWidth": 4, "color": "#D18D22", "strokeJoin": "round"}
            }
          ]
        },
        {
          "data": {"name": "rr"},
          "mark": {"type": "tick", "opacity": 0},
          "encoding": {
            "y": {"field": "rr", "type": "quantitative", "scale": {"type": "log", "domain": [0.9, 62], "nice": false},
                  "axis": {"orient": "right", "values": [1,1.5,2,3,4,5,10,20,30,50],
                           "labelExpr": "format(1 - 1/datum.value, '.1%')",
                           "labelFontSize": 27, "labelPadding": 5, "labelOverlap": false,
                           "tickSize": 5, "tickWidth": 2.5, "tickColor": "#333333", "grid": false,
                           "title": "Vaccine protection (VP)", "titleFontSize": 24.5, "titlePadding": 0}}
          }
        }
      ]
    },
    {
      "width": 1100,
      "height": 230.3,
      "data": {"name": "caption"},
      "encoding": {
        "x": {"value": -157},
        "y": {"field": "line", "type": "ordinal", "axis": null, "scale": {"type": "point", "padding": 0.72}},
        "text": {"field": "text"}
      },
      "layer": [
        {"transform": [{"filter": "datum.part == 's'"}], "mark": {"type": "text", "align": "left", "baseline": "middle", "fontSize": 16.8, "color": "#231f20"}},
        {"transform": [{"filter": "datum.part == 'b0'"}], "mark": {"type": "text", "align": "left", "baseline": "middle", "fontSize": 16.8, "fontWeight": "bold", "color": "#231f20"}},
        {"transform": [{"filter": "datum.part == 'n0'"}], "mark": {"type": "text", "align": "left", "baseline": "middle", "fontSize": 16.8, "dx": 91.5, "color": "#231f20"}},
        {"transform": [{"filter": "datum.part == 'bA'"}], "mark": {"type": "text", "align": "left", "baseline": "middle", "fontSize": 16.8, "fontWeight": "bold", "dx": 46.7, "color": "#231f20"}},
        {"transform": [{"filter": "datum.part == 'nA'"}], "mark": {"type": "text", "align": "left", "baseline": "middle", "fontSize": 16.8, "dx": 74.7, "color": "#231f20"}},
        {"transform": [{"filter": "datum.part == 'bB'"}], "mark": {"type": "text", "align": "left", "baseline": "middle", "fontSize": 16.8, "fontWeight": "bold", "dx": 527.6, "color": "#231f20"}},
        {"transform": [{"filter": "datum.part == 'nB'"}], "mark": {"type": "text", "align": "left", "baseline": "middle", "fontSize": 16.8, "dx": 555.6, "color": "#231f20"}}
      ]
    }
  ]
}
